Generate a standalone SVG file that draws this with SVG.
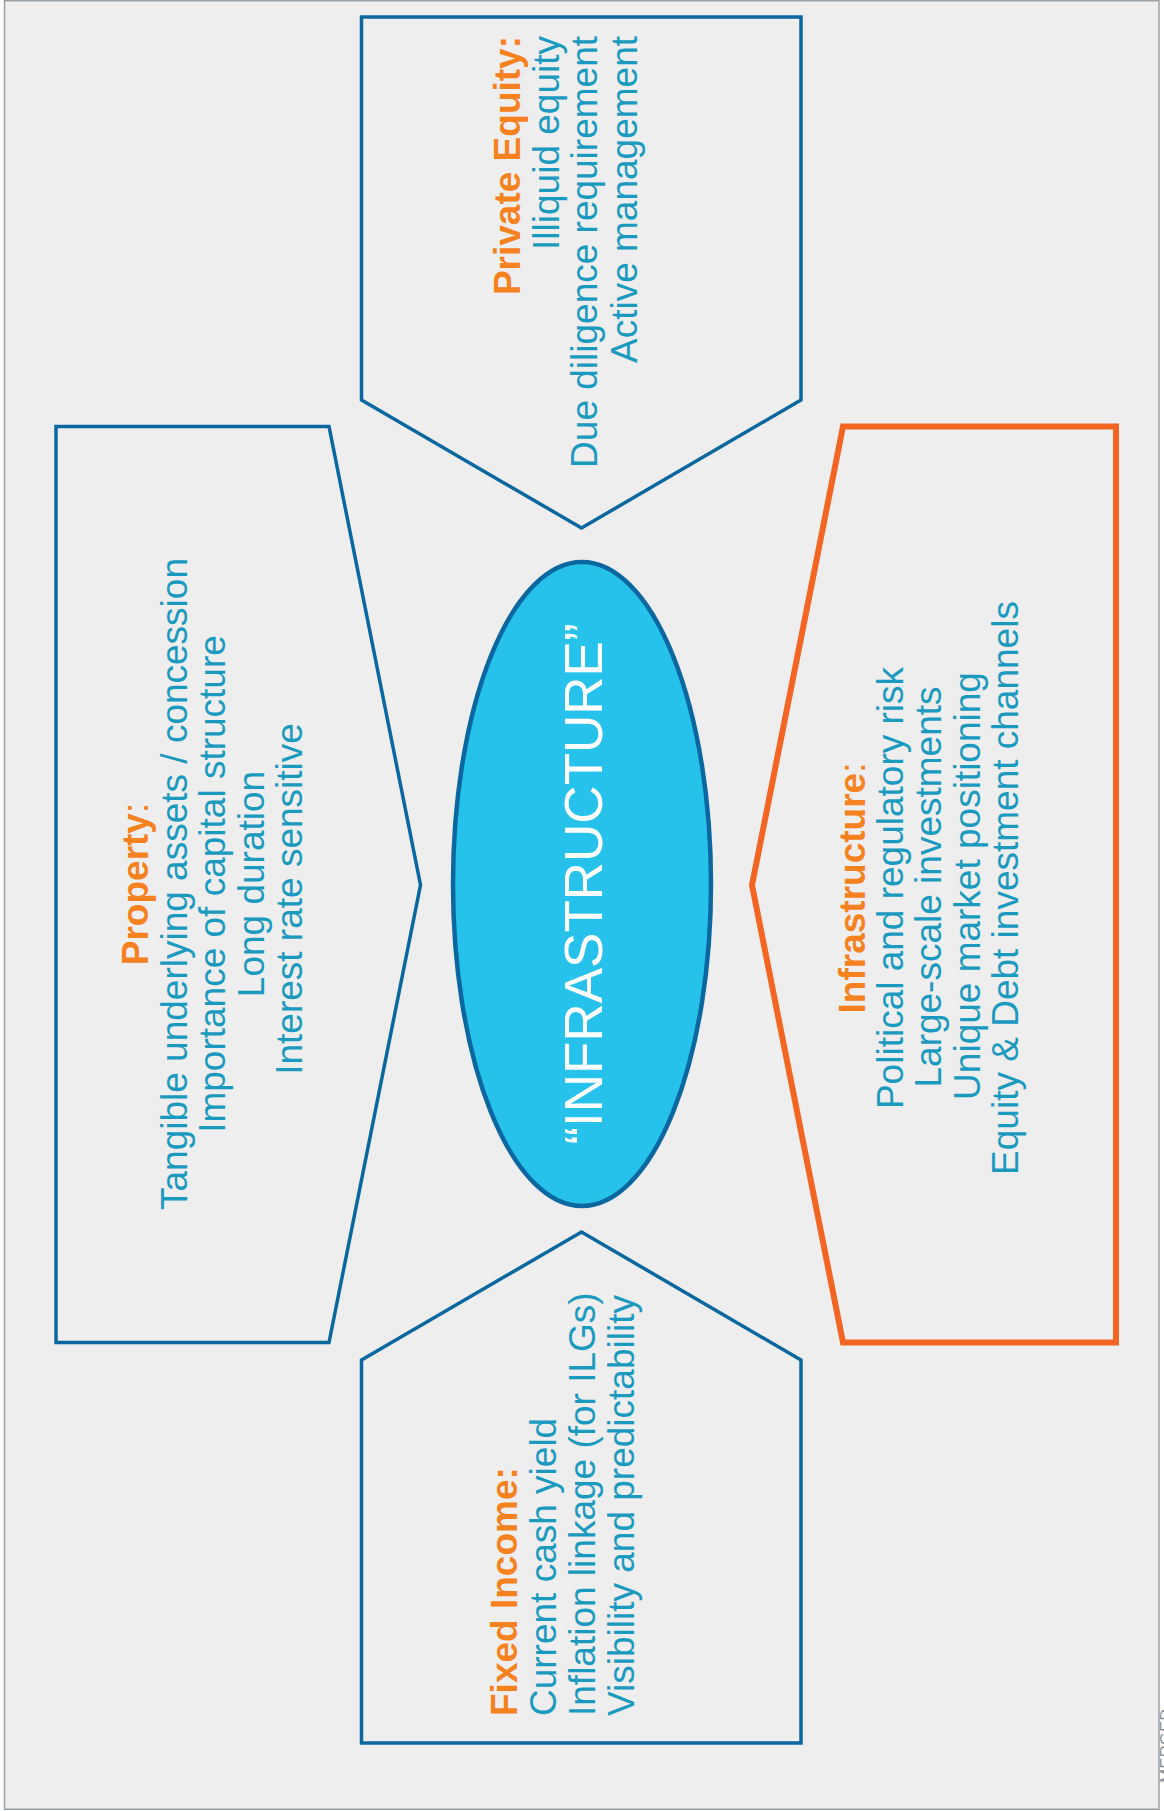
<svg xmlns="http://www.w3.org/2000/svg" width="1164" height="1811" viewBox="0 0 1164 1811">
  <style>
    .bg { fill: #eeeeee; stroke: #9aa0a6; stroke-width: 1.5; }
    .box { fill: none; stroke: #0a67a0; stroke-width: 3.5; stroke-linejoin: miter; }
    .box-hi { fill: none; stroke: #f26522; stroke-width: 6; stroke-linejoin: miter; }
    .core { fill: #27c2eb; stroke: #0a67a0; stroke-width: 4.5; }
    text { font-family: "Liberation Sans", Arial, "DejaVu Sans", sans-serif; font-size: 37px; }
    .t { fill: #1b9ac0; }
    .h { fill: #f5821f; font-weight: bold; }
    .hc { fill: #f5821f; font-weight: normal; }
    .core-t { fill: #ffffff; font-size: 53px; }
    .mark { fill: #8a9096; font-size: 17px; }
  </style>
  <rect class="bg" x="4.5" y="0.75" width="1154.5" height="1808.5"/>

  <g id="connectors"></g>

  <g id="private-equity">
    <polygon class="box" points="361.5,17 801,17 801,400 581.5,528 361.5,400"/>
    <g transform="rotate(-90)">
      <text class="h" x="-36" y="520" text-anchor="end">Private Equity:</text>
      <text class="t" x="-36" y="558.5" text-anchor="end">Illiquid equity</text>
      <text class="t" x="-36" y="597" text-anchor="end">Due diligence requirement</text>
      <text class="t" x="-36" y="636.5" text-anchor="end">Active management</text>
    </g>
  </g>

  <g id="property">
    <polygon class="box" points="56,426.5 329,426.5 420.5,885 329,1342.5 56,1342.5"/>
    <g transform="rotate(-90)">
      <text x="-884" y="148" text-anchor="middle"><tspan class="h">Property</tspan><tspan class="hc">:</tspan></text>
      <text class="t" x="-884" y="186.5" text-anchor="middle">Tangible underlying assets / concession</text>
      <text class="t" x="-884" y="225" text-anchor="middle">Importance of capital structure</text>
      <text class="t" x="-884" y="263.5" text-anchor="middle">Long duration</text>
      <text class="t" x="-899" y="302" text-anchor="middle">Interest rate sensitive</text>
    </g>
  </g>

  <g id="infrastructure-core">
    <ellipse class="core" cx="582" cy="884" rx="129" ry="322"/>
    <text class="core-t" transform="rotate(-90)" x="-884" y="602" text-anchor="middle">“INFRASTRUCTURE”</text>
  </g>

  <g id="infrastructure">
    <polygon class="box-hi" points="1116,426.5 843,426.5 752,885 843,1342.5 1116,1342.5"/>
    <g transform="rotate(-90)">
      <text x="-888" y="865" text-anchor="middle"><tspan class="h">Infrastructure</tspan><tspan class="hc">:</tspan></text>
      <text class="t" x="-888" y="903" text-anchor="middle">Political and regulatory risk</text>
      <text class="t" x="-887" y="941" text-anchor="middle">Large-scale investments</text>
      <text class="t" x="-886" y="979.5" text-anchor="middle">Unique market positioning</text>
      <text class="t" x="-888" y="1018" text-anchor="middle">Equity &amp; Debt investment channels</text>
    </g>
  </g>

  <g id="fixed-income">
    <polygon class="box" points="361.5,1743 801,1743 801,1360 581.5,1232 361.5,1360"/>
    <g transform="rotate(-90)">
      <text class="h" x="-1716" y="516.5" text-anchor="start">Fixed Income:</text>
      <text class="t" x="-1716" y="555.5" text-anchor="start">Current cash yield</text>
      <text class="t" x="-1716" y="595" text-anchor="start">Inflation linkage (for ILGs)</text>
      <text class="t" x="-1716" y="634" text-anchor="start">Visibility and predictability</text>
    </g>
  </g>

  <g id="edge-mark">
    <text class="mark" transform="rotate(-90)" x="-1783" y="1172" text-anchor="start">MERGED</text>
  </g>
</svg>
